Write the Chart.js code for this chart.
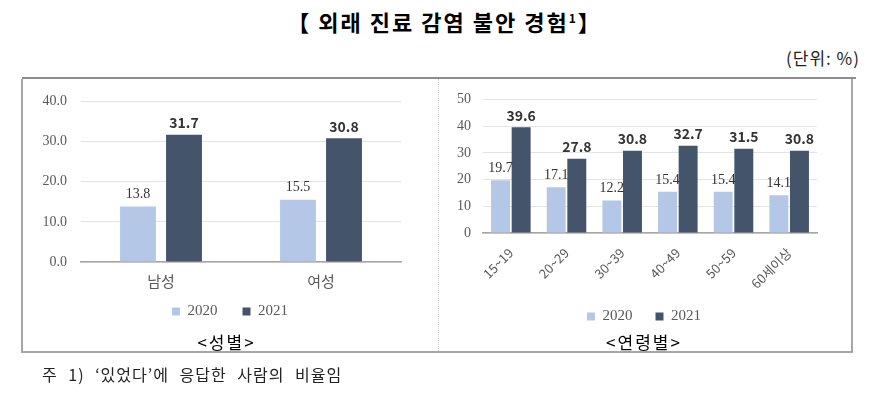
<!DOCTYPE html>
<html>
<head>
<meta charset="utf-8">
<script src="https://cdn.jsdelivr.net/npm/chart.js@4"></script>
<style>
  body { margin: 0; background: #fff; }
  #page { position: relative; width: 889px; height: 393px; overflow: hidden; font-family: "Noto Sans CJK KR", sans-serif; color: #000; }
  .title { position: absolute; top: 5px; left: 0; width: 889px; text-align: center; font-size: 22px; font-weight: bold; letter-spacing: 2px; }
  .title sup { font-size: 12px; }
  .unit { position: absolute; top: 45px; right: 29px; font-size: 17px; color: #222; letter-spacing: 1px; }
  .topline { position: absolute; left: 22px; top: 77px; width: 834px; height: 2px; background: #8c8c8c; }
  .panel { position: absolute; top: 79px; height: 272px; border-bottom: 2px solid #a6a6a6; }
  #leftPanel { left: 21px; width: 415px; border-left: 2px solid #a6a6a6; border-right: 1px dotted #c8c8c8; }
  #rightPanel { left: 437px; width: 414px; border-right: 2px solid #a6a6a6; }
  .panel canvas { position: absolute; left: 0; top: 0; }
  .caption { position: absolute; width: 100%; text-align: center; top: 250px; font-size: 17px; letter-spacing: 2px; }
  #leftPanel .caption { margin-left: -4px; }
  .note { position: absolute; left: 42px; top: 362px; font-size: 16px; color: #222; word-spacing: 6px; letter-spacing: 1px; }
</style>
</head>
<body>
<div id="page">
  <div class="title">【 외래 진료 감염 불안 경험<sup>1</sup>】</div>
  <div class="unit">(단위: %)</div>
  <div class="topline"></div>
  <div class="panel" id="leftPanel">
    <canvas id="genderChart"></canvas>
    <div class="caption">&lt;성별&gt;</div>
  </div>
  <div class="panel" id="rightPanel">
    <canvas id="ageChart"></canvas>
    <div class="caption">&lt;연령별&gt;</div>
  </div>
  <div class="note">주 1) ‘있었다’에 응답한 사람의 비율임</div>
</div>
<script>
// data
const genderLabels = ['남성', '여성'];
const gender2020 = [13.8, 15.5];
const gender2021 = [31.7, 30.8];

const ageLabels = ['15~19', '20~29', '30~39', '40~49', '50~59', '60세이상'];
const age2020 = [19.7, 17.1, 12.2, 15.4, 15.4, 14.1];
const age2021 = [39.6, 27.8, 30.8, 32.7, 31.5, 30.8];

const seriesNames = ['2020', '2021'];
const LIGHT = '#b4c7e7';
const DARK = '#44546a';
const SERIF = '"Liberation Serif", "DejaVu Serif", serif';
const SANS = '"Noto Sans CJK KR", "Noto Sans", sans-serif';

// draws the value on top of every bar
const valueLabels = {
    id: 'valueLabels',
    afterDatasetsDraw(chart, args, opts) {
        const ctx = chart.ctx;
        ctx.save();
        ctx.textAlign = 'center';
        ctx.textBaseline = 'bottom';
        chart.data.datasets.forEach((ds, i) => {
            const meta = chart.getDatasetMeta(i);
            ctx.font = opts.fonts[i];
            ctx.fillStyle = opts.colors[i];
            meta.data.forEach((bar, j) => {
                ctx.fillText(ds.data[j].toFixed(1), bar.x, bar.y - opts.offset);
            });
        });
        ctx.restore();
    }
};

// wider gap between the two legend items (padding also moves the legend vertically)
function legendItems(chart) {
    const items = Chart.defaults.plugins.legend.labels.generateLabels(chart);
    items[0].text = items[0].text + '    ';
    return items;
}

function makeChart(id, w, h, cfg) {
    const canvas = document.getElementById(id);
    canvas.width = w;
    canvas.height = h;
    canvas.style.width = w + 'px';
    canvas.style.height = h + 'px';
    return new Chart(canvas.getContext('2d'), {
        type: 'bar',
        data: {
            labels: cfg.labels,
            datasets: [
                { label: seriesNames[0], data: cfg.a, backgroundColor: LIGHT,
                  categoryPercentage: cfg.cp, barPercentage: cfg.bp },
                { label: seriesNames[1], data: cfg.b, backgroundColor: DARK,
                  categoryPercentage: cfg.cp, barPercentage: cfg.bp }
            ]
        },
        options: {
            responsive: false,
            animation: false,
            layout: { padding: { top: cfg.padTop, right: 0, left: 0, bottom: 4 } },
            scales: {
                x: {
                    grid: { display: false, drawTicks: false },
                    border: { display: true, color: '#a6a6a6', width: 1.5 },
                    ticks: {
                        color: '#595959',
                        font: cfg.xFont,
                        padding: cfg.xPad,
                        minRotation: cfg.rot,
                        maxRotation: cfg.rot
                    },
                    afterFit: s => { s.height = cfg.xHeight; }
                },
                y: {
                    min: 0,
                    max: cfg.max,
                    border: { display: false },
                    grid: { color: '#e3e3e3', drawTicks: false },
                    ticks: {
                        stepSize: 10,
                        color: '#595959',
                        font: { family: SERIF, size: 14 },
                        padding: cfg.yPad,
                        callback: v => cfg.decimals ? v.toFixed(1) : v
                    },
                    afterFit: s => { s.width = cfg.yWidth; }
                },
                // empty right axis: keeps the white margin right of the plot
                // while the legend stays centred on the whole canvas
                yR: {
                    type: 'linear',
                    axis: 'y',
                    position: 'right',
                    border: { display: false },
                    grid: { display: false, drawTicks: false },
                    ticks: { display: false },
                    afterFit: s => { s.width = cfg.rightGap; }
                }
            },
            plugins: {
                legend: {
                    position: 'bottom',
                    labels: {
                        boxWidth: 8,
                        boxHeight: 8,
                        padding: cfg.legendPad,
                        color: '#595959',
                        font: { family: SERIF, size: 15 },
                        generateLabels: legendItems
                    }
                },
                tooltip: { enabled: false },
                valueLabels: {
                    offset: 5,
                    fonts: ['14px ' + SERIF, 'bold 14px ' + SANS],
                    colors: ['#333', '#333']
                }
            }
        },
        plugins: [valueLabels]
    });
}

makeChart('genderChart', 414, 254, {
    labels: genderLabels, a: gender2020, b: gender2021,
    max: 40, decimals: true, cp: 0.575, bp: 0.78,
    padTop: 12, rightGap: 36,
    yWidth: 58, yPad: 14, xHeight: 32, xPad: 10, rot: 0,
    xFont: { family: SANS, size: 15 },
    legendPad: 10
});

makeChart('ageChart', 414, 259, {
    labels: ageLabels, a: age2020, b: age2021,
    max: 50, decimals: false, cp: 0.74, bp: 0.92,
    padTop: 11, rightGap: 34,
    yWidth: 46, yPad: 12, xHeight: 68, xPad: 12, rot: 45,
    xFont: { family: SANS, size: 13 },
    legendPad: 8
});
</script>
</body>
</html>
